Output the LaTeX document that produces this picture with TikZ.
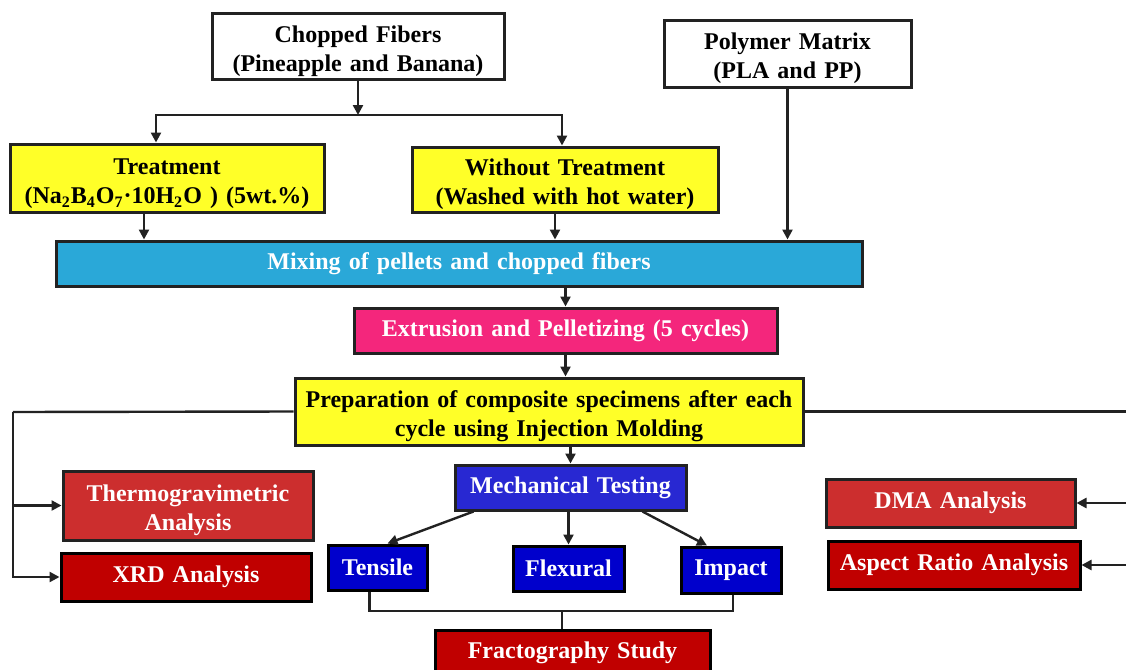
\documentclass[tikz,border=0pt]{standalone}
\usepackage{fontspec}
\setmainfont{Liberation Serif}[WordSpace=1.35]
\usepackage{xcolor}
\usepackage{tikz}
\usetikzlibrary{arrows.meta,positioning,calc}

\definecolor{boxyellow}{RGB}{255,255,40}
\definecolor{mixblue}{RGB}{42,168,216}
\definecolor{extpink}{RGB}{244,38,124}
\definecolor{mechblue}{RGB}{40,40,210}
\definecolor{testblue}{RGB}{0,0,204}
\definecolor{lightred}{RGB}{204,46,46}
\definecolor{darkred}{RGB}{192,0,0}
\definecolor{edgegray}{RGB}{34,34,34}

\begin{document}
\begin{tikzpicture}[x=0.5pt, y=-0.5pt,
  box/.style={draw=edgegray, line width=1.5pt, align=center, inner sep=0pt,
    font=\fontsize{12}{14.5}\selectfont\bfseries},
  twoline/.style={execute at begin node={\rule{0pt}{28pt}}},
  plain/.style={box, twoline},
  yel/.style={box, fill=boxyellow},
  wbox/.style={box, text=white, fill=#1},
  line/.style={draw=edgegray, line width=1.2pt},
  arr/.style={line, -{Triangle[length=5pt,width=5pt]}}
]
\fill[white] (0,0) rectangle (1126,670);
\useasboundingbox (0,0) rectangle (1126,670);

% raw materials and fibre treatment
\node[plain, minimum width=146pt, minimum height=33pt] (fibers) at (358,46) {Chopped Fibers\\(Pineapple and Banana)};
\node[plain, minimum width=123.5pt, minimum height=33.5pt] (matrix) at (787.5,53.5) {Polymer Matrix\\(PLA and PP)};
\node[yel, twoline, minimum width=157pt, minimum height=34pt] (treat) at (167,178) {Treatment\\(Na\textsubscript{2}B\textsubscript{4}O\textsubscript{7}·10H\textsubscript{2}O ) (5wt.\%)};
\node[yel, twoline, minimum width=153pt, minimum height=32.5pt] (notreat) at (565,179.5) {Without Treatment\\(Washed with hot water)};

% processing
\node[wbox=mixblue, minimum width=403pt, minimum height=22.5pt] (mixing) at (459,263.5) {Mixing of pellets and chopped fibers};
\node[wbox=extpink, minimum width=211.5pt, minimum height=22.5pt] (extr) at (565.5,330.5) {Extrusion and Pelletizing (5 cycles)};
\node[yel, twoline, minimum width=254pt, minimum height=33.5pt] (prep) at (549,411.5) {Preparation of composite specimens after each\\cycle using Injection Molding};

% characterisation
\node[wbox=mechblue, minimum width=115.5pt, minimum height=22.5pt] (mech) at (570.5,487.5) {Mechanical Testing};
\node[wbox=lightred, twoline, minimum width=125pt, minimum height=34.5pt] (thermo) at (188,505.5) {Thermogravimetric\\Analysis};
\node[wbox=darkred, draw=black, minimum width=125pt, minimum height=24pt] (xrd) at (186,577) {XRD Analysis};
\node[wbox=testblue, draw=black, minimum width=49.5pt, minimum height=22.5pt] (tensile) at (377.5,567.5) {Tensile};
\node[wbox=testblue, draw=black, minimum width=55.5pt, minimum height=22.5pt] (flex) at (568.5,568.5) {Flexural};
\node[wbox=testblue, draw=black, minimum width=50pt, minimum height=23pt] (impact) at (731,570) {Impact};
\node[wbox=darkred, draw=black, minimum width=137.5pt, minimum height=23pt] (fracto) at (572.5,653) {Fractography Study};
\node[wbox=lightred, minimum width=124.5pt, minimum height=24pt] (dma) at (950.5,503) {DMA Analysis};
\node[wbox=darkred, draw=black, minimum width=126pt, minimum height=24pt] (aspect) at (954,565) {Aspect Ratio Analysis};

\coordinate (split) at (358,115);
\coordinate (lbus) at (13,412);
\coordinate (rbus) at (1130,412);
\coordinate (merge) at (562,611);

\draw[arr] (fibers.south) -- (split);
\draw[arr] (split) -| ([xshift=-5.5pt]treat.north);
\draw[arr] (split) -| ([xshift=-1.5pt]notreat.north);
\draw[arr] ([xshift=-11.5pt]treat.south) -- ([xshift=-11.5pt]treat.south |- mixing.north);
\draw[arr] ([xshift=-5pt]notreat.south) -- ([xshift=-5pt]notreat.south |- mixing.north);
\draw[arr] (matrix.south) -- (matrix.south |- mixing.north);
\draw[arr] (extr.north |- mixing.south) -- (extr.north);
\draw[arr] (extr.south) -- (extr.south |- prep.north);
\draw[arr] (mech.north |- prep.south) -- (mech.north);

\draw[line] (prep.west) -- (lbus);
\draw[arr] (lbus) |- (xrd.west);
\draw[arr] (lbus |- thermo.west) -- (thermo.west);
\draw[line] (prep.east) -- (prep.east -| rbus);
\draw[arr] (rbus |- dma.east) -- (dma.east);
\draw[arr] (rbus |- aspect.east) -- (aspect.east);

\draw[arr] ([xshift=-48.5pt]mech.south) -- ([xshift=5pt]tensile.north);
\draw[arr] (flex.north |- mech.south) -- (flex.north);
\draw[arr] ([xshift=36pt]mech.south) -- ([xshift=-12pt]impact.north);

\draw[line] ([xshift=-4pt]tensile.south) |- (merge) -| ([xshift=1pt]impact.south);
\draw[line] (merge) -- (merge |- fracto.north);
\end{tikzpicture}
\end{document}
